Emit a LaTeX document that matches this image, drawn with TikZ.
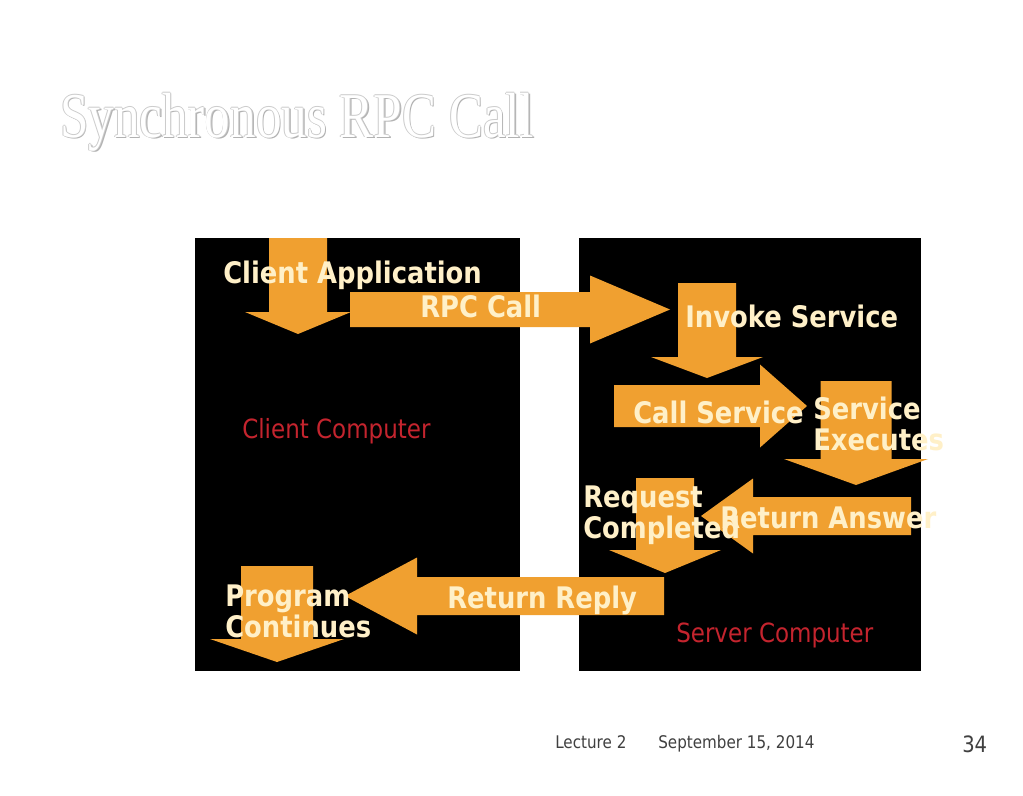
\documentclass[tikz,border=0pt]{standalone}
\usepackage{fontspec}
\setmainfont{DejaVu Sans}[FakeStretch=0.87]
\newfontfamily\titlefont{Liberation Serif}[FakeStretch=0.8]
\usetikzlibrary{positioning}
\definecolor{rpcorange}{RGB}{240,160,48}
\definecolor{rpccream}{RGB}{255,240,200}
\definecolor{rpcred}{RGB}{196,36,46}
\definecolor{footgray}{RGB}{64,64,64}
\newcommand\blockdown[6]{% centre x, shaft half width, top, neck, head half width, tip
  (#1-#2,#3) -- (#1+#2,#3) -- (#1+#2,#4) -- (#1+#5,#4) -- (#1,#6) -- (#1-#5,#4) -- (#1-#2,#4) -- cycle
}
\newcommand\blockside[6]{% centre y, shaft half height, start, neck, head half height, tip
  (#3,#1-#2) -- (#4,#1-#2) -- (#4,#1-#5) -- (#6,#1) -- (#4,#1+#5) -- (#4,#1+#2) -- (#3,#1+#2) -- cycle
}
\tikzset{
  lbl/.style={text=rpccream, font=\bfseries\fontsize{21.1}{22}\selectfont, inner sep=0, anchor=base west, align=left},
  machine/.style={text=rpcred, font=\fontsize{18.8}{20}\selectfont, inner sep=0, anchor=base west},
  foot/.style={text=footgray, font=\fontsize{12.4}{14}\selectfont, inner sep=0, anchor=base west},
  ttl/.style={font=\titlefont\fontsize{45.4}{50}\selectfont, inner sep=0, anchor=base west}
}

\begin{document}
\begin{tikzpicture}[x=0.025cm, y=-0.025cm]
\useasboundingbox [fill=white] (0,0) rectangle (1023,795);

% title, outlined
\node [ttl, text=gray!60] at (61.5,138.5) {Synchronous RPC Call};
\foreach \dx/\dy in {-0.8/0,0.8/0,0/-0.8,0/0.8}
  \node [ttl, text=gray!40] at (60+\dx,137+\dy) {Synchronous RPC Call};
\node (title) [ttl, text=white] at (60,137) {Synchronous RPC Call};

% the two computers
\fill [black] (195,238) rectangle (520,671);
\fill [black] (579,238) rectangle (921,671);

% block arrows
\fill [rpcorange] \blockdown{298}{29}{238}{312}{53}{334};
\fill [rpcorange] \blockside{309.5}{17.5}{350}{590}{34}{670};
\fill [rpcorange] \blockdown{707}{29}{283}{357}{56}{378};
\fill [rpcorange] \blockside{406}{21}{614}{760}{41.5}{807};
\fill [rpcorange] \blockdown{856}{35.5}{381}{459}{72}{485};
\fill [rpcorange] \blockside{516}{19}{911}{753}{37.5}{701};
\fill [rpcorange] \blockdown{665}{29}{478}{550}{56}{573};
\fill [rpcorange] \blockside{596}{19}{664}{417}{38.5}{345};
\fill [rpcorange] \blockdown{277}{36}{566}{639}{67}{662};

% labels
\node (app) [lbl] at (223,283) {Client Application};
\node (rpc) [lbl] at (420,317) {RPC Call};
\node (invoke) [lbl] at (685,327) {Invoke Service};
\node (call) [lbl] at (633,423) {Call Service};
\node (exec) [lbl] at (813,450) {Service\\Executes};
\node (answer) [lbl] at (720,528) {Return Answer};
\node (done) [lbl] at (583,538) {Request\\Completed};
\node (reply) [lbl] at (447,608) {Return Reply};
\node (cont) [lbl] at (225,637) {Program\\Continues};

\node (client) [machine] at (242,438) {Client Computer};
\node (server) [machine] at (676,642) {Server Computer};

% footer
\node (lect) [foot] at (555,748) {Lecture 2};
\node (date) [foot] at (658,748) {September 15, 2014};
\node (page) [foot, font=\fontsize{16}{18}\selectfont] at (962,752) {34};
\end{tikzpicture}
\end{document}
